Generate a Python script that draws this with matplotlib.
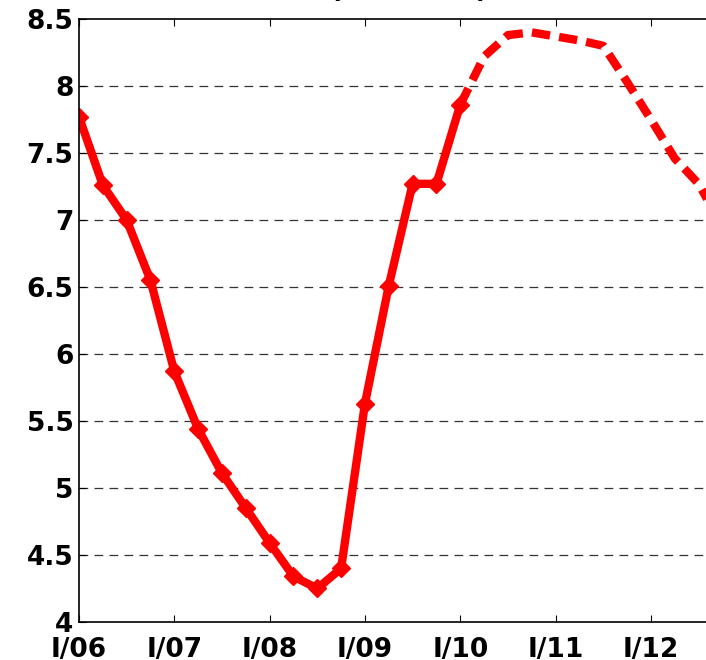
import matplotlib
matplotlib.use("Agg")
import matplotlib.pyplot as plt
import numpy as np

# Quarterly data starting I/06 (quarter index 0)
actual_values = [7.77, 7.26, 7.00, 6.55, 5.87, 5.44, 5.11, 4.85, 4.59, 4.34,
                 4.25, 4.40, 5.63, 6.51, 7.27, 7.27, 7.86]
forecast_values = [7.86, 8.22, 8.38, 8.40, 8.37, 8.34, 8.30, 8.03, 7.75, 7.46,
                   7.27, 6.95]
tick_labels = ["I/06", "I/07", "I/08", "I/09", "I/10", "I/11", "I/12"]
y_ticks = [4, 4.5, 5, 5.5, 6, 6.5, 7, 7.5, 8, 8.5]
y_tick_labels = ["4", "4.5", "5", "5.5", "6", "6.5", "7", "7.5", "8", "8.5"]
title_text = "(rate in %)"

W, H = 706, 660
fig = plt.figure(figsize=(W / 100, H / 100), dpi=100)
left_px, right_px, top_px, bottom_px = 79, 79 + 27 * 23.83, 19, 622
ax = fig.add_axes([left_px / W, (H - bottom_px) / H,
                   (right_px - left_px) / W, (bottom_px - top_px) / H])

x_act = np.arange(len(actual_values))
x_fc = np.arange(len(forecast_values)) + len(actual_values) - 1

ax.plot(x_fc, forecast_values, color="#ff0000", lw=6,
        linestyle=(0, (2.2, 1.1)), dash_capstyle="butt", solid_joinstyle="miter")
ax.plot(x_act, actual_values, color="#ff0000", lw=6, marker="D", markersize=9.5,
        solid_joinstyle="miter", solid_capstyle="butt")

ax.set_xlim(0, 27)
ax.set_ylim(4, 8.5)
for yv in [4.5, 5, 5.5, 6, 6.5, 7, 7.5, 8]:
    ax.axhline(yv, color="#333333", lw=0.9, linestyle=(0, (7, 5)), zorder=0)

ax.set_xticks(np.arange(len(tick_labels)) * 4)
ax.set_xticklabels(tick_labels)
ax.set_yticks(y_ticks)
ax.set_yticklabels(y_tick_labels)

fam = ["DejaVu Sans"]
for lab in ax.get_xticklabels() + ax.get_yticklabels():
    lab.set_fontfamily(fam)
    lab.set_fontweight("bold")
    lab.set_fontsize(19)

ax.tick_params(axis="x", direction="in", length=5, width=0.8, top=True,
               pad=11, colors="black")
ax.tick_params(axis="y", direction="in", length=5, width=0.8, pad=4)
for s in ["left", "top", "bottom"]:
    ax.spines[s].set_linewidth(1.2)
ax.spines["right"].set_visible(False)

fig.text(409 / W, 1 - 3 / H, title_text, ha="center", va="bottom",
         fontfamily=fam, fontweight="bold", fontsize=19)

fig.savefig("out.png", dpi=100)
